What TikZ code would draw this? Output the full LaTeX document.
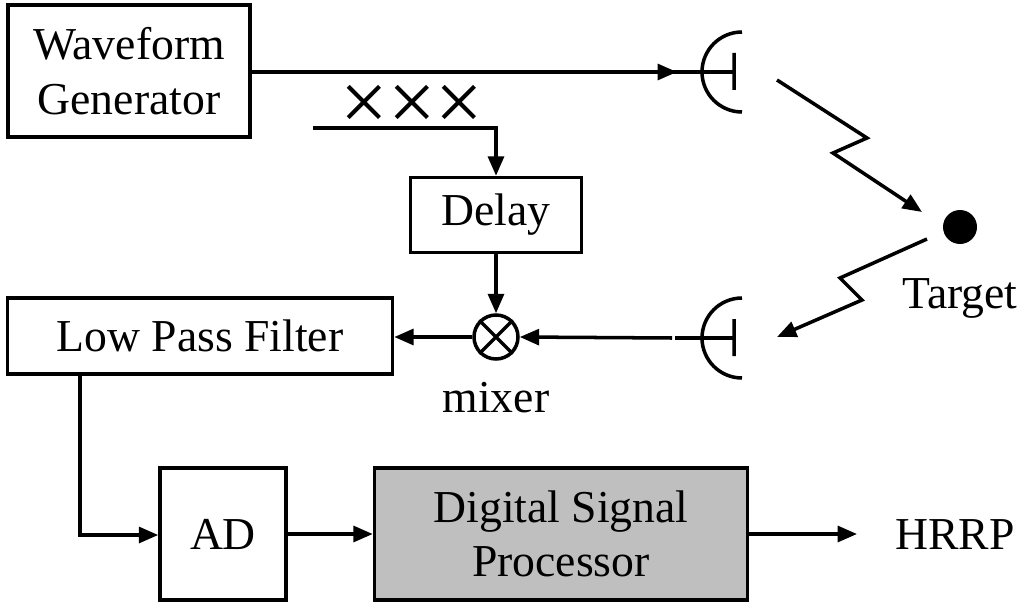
\documentclass[tikz,border=0pt]{standalone}
\usepackage{fontspec}
\setmainfont{Liberation Serif}
\usetikzlibrary{arrows.meta}
\begin{document}
\begin{tikzpicture}[x=0.02cm,y=-0.02cm,line width=2pt,
  box/.style={draw,line width=2pt,align=center,font=\fontsize{26}{31}\selectfont},
  lbl/.style={font=\fontsize{26}{31}\selectfont},
  arr/.style={-{Triangle[length=11pt,width=9pt]}}]
\useasboundingbox (0,0) rectangle (1024,608);
\node[box,minimum width=242*0.02cm,minimum height=132*0.02cm] (wg) at (129,71) {Waveform\\Generator};
\node[box,minimum width=171*0.02cm,minimum height=75*0.02cm] (delay) at (496,215) {Delay};
\node[box,minimum width=385*0.02cm,minimum height=76*0.02cm] (lpf) at (200,336) {Low Pass Filter};
\node[box,minimum width=126*0.02cm,minimum height=132*0.02cm] (ad) at (223,534) {AD};
\node[box,fill=black!25,minimum width=373*0.02cm,minimum height=132*0.02cm] (dsp) at (561,534) {Digital Signal\\Processor};
\node[lbl] (hrrp) at (955,535) {HRRP};
\node[draw,circle,line width=2pt,minimum size=44*0.02cm,inner sep=0] (mix) at (496,337) {};
\draw (mix.45)--(mix.225) (mix.135)--(mix.315);
\node[lbl] (mixl) at (496,398) {mixer};
\node[circle,fill=black,minimum size=34*0.02cm,inner sep=0] (tgt) at (960,227) {};
\node[lbl] (tl) at (960,298) {Target};
\node[inner sep=0,font=\fontsize{48}{48}\selectfont] (xxx) at (412,108) {×××};
% antennas
\coordinate (a1) at (702,72);
\coordinate (a2) at (702,338);
\draw (742,32) arc (270:90:40) (702,72)--(734,72) (734,53)--(734,90);
\draw (742,298) arc (270:90:40) (702,338)--(734,338) (734,319)--(734,356);
\draw (wg.east |- a1)--(a1);
\draw[arr] (wg.east |- a1)--(677,72);
\draw (a2)--(675,338);
\draw[arr] (672,338) -- (mix.east);
\draw[arr] (mix.west)--(lpf.east |- mix);
\coordinate (s) at (313,128);
\draw[arr] (s)--(496,128)--(delay.north);
\draw[arr] (delay.south)--(mix.north);
\draw[arr] (80,374)--(80,535)--(ad.west |- 80,535);
\draw[arr] (ad.east)--(dsp.west);
\draw[arr] (dsp.east)--(857,534);
\coordinate (z1) at (777,80);
\draw[arr] (z1)--(867,138)--(833,153)--(922,212);
\coordinate (z2) at (927,239);
\draw[arr] (z2)--(840,278)--(862,300)--(777,337);
\end{tikzpicture}
\end{document}
